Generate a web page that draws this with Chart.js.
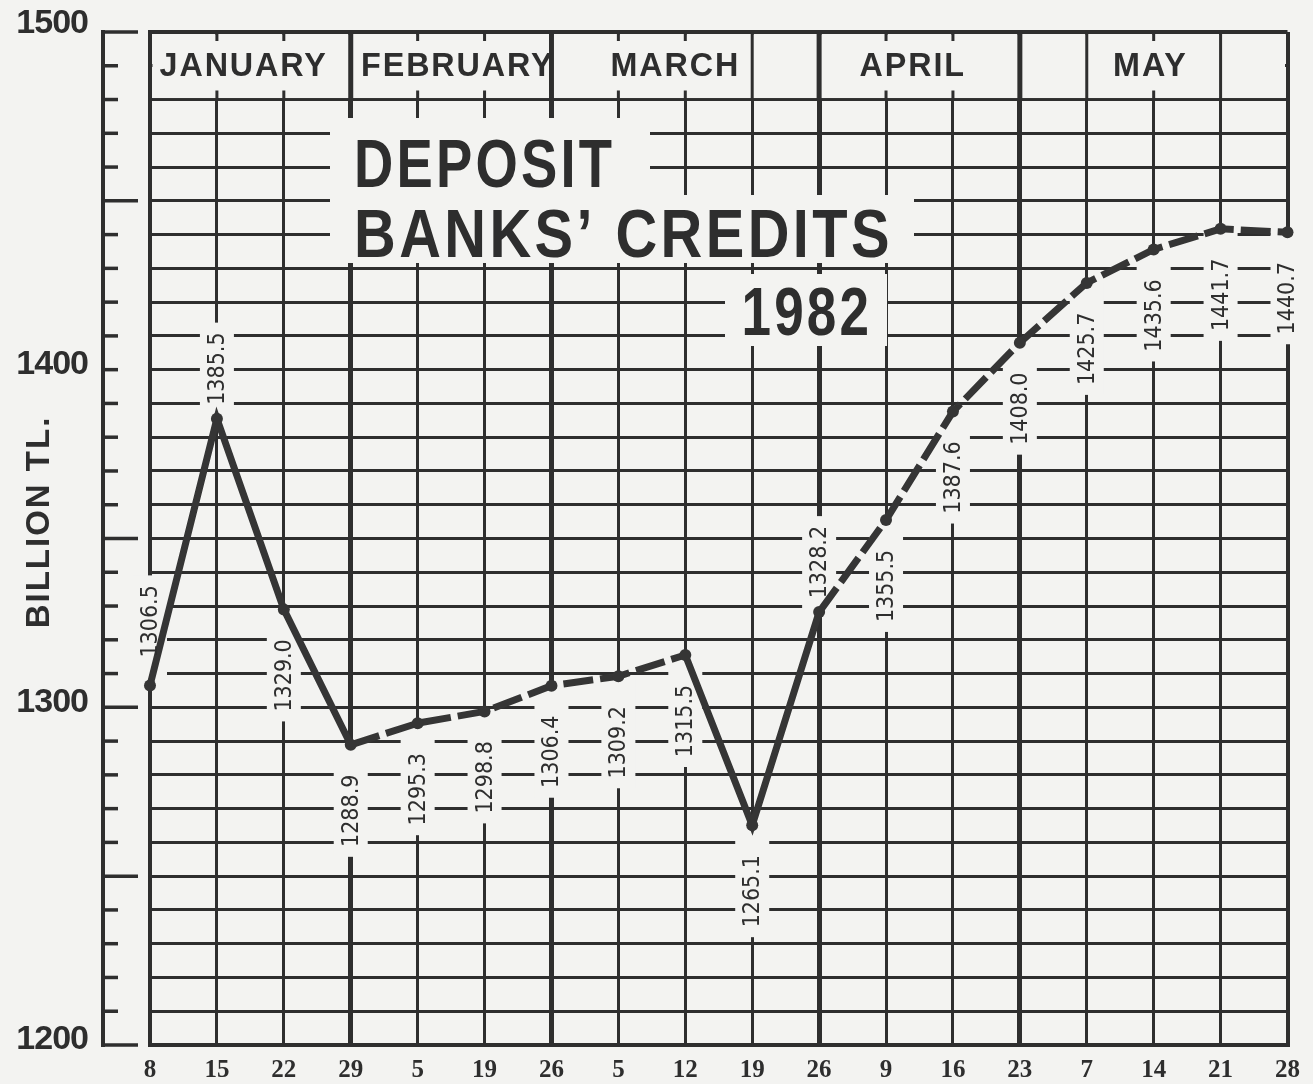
<!DOCTYPE html>
<html>
<head>
<meta charset="utf-8">
<title>Deposit Banks' Credits 1982</title>
<script src="https://cdn.jsdelivr.net/npm/chart.js@4.4.1/dist/chart.umd.min.js"></script>
<style>
  html, body { margin: 0; padding: 0; background: #f3f3f1; overflow: hidden; }
  canvas { display: block; }
</style>
</head>
<body>
<canvas id="chart" width="1313" height="1084"></canvas>
<script>
// weekly readings, Jan - May 1982
const weeks = ['8','15','22','29','5','19','26','5','12','19','26','9','16','23','7','14','21','28'];
const credits = [1306.5, 1385.5, 1329.0, 1288.9, 1295.3, 1298.8, 1306.4, 1309.2, 1315.5,
                 1265.1, 1328.2, 1355.5, 1387.6, 1408.0, 1425.7, 1435.6, 1441.7, 1440.7];
const valueLabels = credits.map(v => v.toFixed(1));
const months = ['JANUARY', 'FEBRUARY', 'MARCH', 'APRIL', 'MAY'];
const yTickLabels = [1200, 1300, 1400, 1500];
const titleLines = ['DEPOSIT', 'BANKS’ CREDITS', '1982'];
const yTitle = 'BILLION TL.';

// styling / layout
const INK = '#2e2e2e';
const PAPER = '#f3f3f1';
const MONTH_AT = [1.4, 4.6, 7.85, 11.4, 14.95];     // in week-index units
const MONTH_EDGES = [3, 6, 10, 13];                  // heavier verticals
const HEADER_FULL = [0, 3, 6, 9, 10, 13, 14, 16, 17];
const DASHED_FROM = [3, 4, 5, 6, 7, 10, 11, 12, 13, 14, 15, 16];
const LABEL_ABOVE = [0, 1, 10];
const LONG_TICKS = [1200, 1250, 1300, 1350, 1450, 1500];

function labelSpan(chart, i){
  const x = chart.scales.x.getPixelForValue(i);
  const py = chart.scales.y.getPixelForValue(credits[i]);
  const above = LABEL_ABOVE.includes(i);
  const ly = above ? py - (i === 0 ? 64 : 50) : py + 66;
  return { x, py, ly };
}

const paper = {
  id: 'paper',
  beforeDraw(c){
    const g = c.ctx;
    g.save(); g.fillStyle = PAPER; g.fillRect(0, 0, c.width, c.height); g.restore();
  }
};

const furniture = {
  id: 'furniture',
  beforeDatasetsDraw(c){
    const g = c.ctx, a = c.chartArea, xs = c.scales.x, ys = c.scales.y;
    g.save();

    // header band with month names
    const hb = ys.getPixelForValue(1480);
    g.fillStyle = PAPER;
    g.fillRect(a.left + 2.5, a.top + 2.5, a.right - a.left - 5, hb - a.top - 4);
    g.strokeStyle = INK;
    for (let i = 1; i < weeks.length - 1; i++){
      const x = xs.getPixelForValue(i);
      g.lineWidth = MONTH_EDGES.includes(i) ? 5 : 3;
      g.beginPath();
      if (HEADER_FULL.includes(i)){
        g.moveTo(x, a.top); g.lineTo(x, hb);
      } else {
        g.moveTo(x, a.top); g.lineTo(x, a.top + 9);
        g.moveTo(x, hb - 9); g.lineTo(x, hb);
      }
      g.stroke();
    }
    g.fillStyle = INK;
    g.font = 'bold 34px "Liberation Sans", Arial, sans-serif';
    g.letterSpacing = '2px';
    g.textAlign = 'center';
    g.textBaseline = 'alphabetic';
    months.forEach((m, k) => {
      g.save(); g.translate(xs.getPixelForValue(MONTH_AT[k]), 76); g.scale(0.95, 1);
      g.fillText(m, 0, 0); g.restore();
    });

    // title, with the grid knocked out behind it
    g.fillStyle = PAPER;
    g.fillRect(330, 118, 320, 78);
    g.fillRect(330, 195, 584, 68);
    g.fillRect(725, 274, 162, 72);
    g.fillStyle = INK;
    g.font = 'bold 68px "Liberation Sans", Arial, sans-serif';
    g.letterSpacing = '4px';
    const drawT = (t, x, y, align, sx) => {
      g.save(); g.translate(x, y); g.scale(sx, 1); g.textAlign = align; g.fillText(t, 0, 0); g.restore();
    };
    drawT(titleLines[0], 354, 187, 'left', 0.8);
    drawT(titleLines[1], 354, 257, 'left', 0.85);
    drawT(titleLines[2], 872, 335, 'right', 0.78);

    // gaps in the grid for the value labels
    g.fillStyle = PAPER;
    credits.forEach((v, i) => {
      const s = labelSpan(c, i);
      const top = Math.min(s.py, s.ly - 46), bot = Math.max(s.py, s.ly + 46);
      g.fillRect(s.x - 17, top, 34, bot - top);
    });

    // detached ruler on the left
    const rx = 103;
    g.strokeStyle = INK; g.lineWidth = 4; g.lineCap = 'butt';
    g.beginPath();
    g.moveTo(rx, ys.getPixelForValue(1500) - 2); g.lineTo(rx, ys.getPixelForValue(1200) + 2);
    g.stroke();
    g.lineWidth = 3.5;
    for (let v = 1200; v <= 1500; v += 10){
      const y = ys.getPixelForValue(v);
      g.beginPath(); g.moveTo(rx, y); g.lineTo(LONG_TICKS.includes(v) ? 138 : 118, y); g.stroke();
    }
    g.fillStyle = INK;
    g.font = 'bold 34px "Liberation Sans", Arial, sans-serif';
    g.letterSpacing = '-1px';
    g.textAlign = 'right'; g.textBaseline = 'middle';
    yTickLabels.forEach(v => {
      let y = ys.getPixelForValue(v) - 5;
      if (v === 1500) y = 24;
      g.fillText(String(v), 88, y);
    });

    // axis title
    g.save();
    g.translate(40, 522); g.rotate(-Math.PI / 2);
    g.font = 'bold 33px "Liberation Sans", Arial, sans-serif';
    g.letterSpacing = '2px';
    g.textAlign = 'center'; g.textBaseline = 'middle';
    g.fillText(yTitle, 0, 0);
    g.restore();

    g.restore();
  },
  afterDatasetsDraw(c){
    const g = c.ctx;
    g.save();
    g.fillStyle = INK;
    g.font = '23px "DejaVu Sans Condensed", "Liberation Sans Narrow", sans-serif';
    g.textAlign = 'center'; g.textBaseline = 'middle';
    valueLabels.forEach((t, i) => {
      const s = labelSpan(c, i);
      g.save(); g.translate(s.x + 1, s.ly); g.rotate(-Math.PI / 2); g.fillText(t, 0, 0); g.restore();
    });
    g.restore();
  }
};

const chart = new Chart(document.getElementById('chart').getContext('2d'), {
  type: 'line',
  data: {
    labels: weeks,
    datasets: [{
      data: credits,
      borderColor: '#353535',
      borderWidth: 7,
      borderCapStyle: 'butt',
      pointRadius: 6,
      pointBackgroundColor: '#353535',
      pointBorderWidth: 0,
      tension: 0,
      clip: 12,
      segment: {
        borderDash: ctx => DASHED_FROM.includes(ctx.p0DataIndex) ? [30, 7] : undefined
      }
    }]
  },
  options: {
    responsive: false,
    animation: false,
    devicePixelRatio: 1,
    layout: { padding: { left: 150, right: 23, top: 32, bottom: -12 } },
    plugins: { legend: { display: false }, tooltip: { enabled: false } },
    scales: {
      x: {
        offset: false,
        grid: {
          color: INK,
          lineWidth: ctx => (ctx.index === 0 || ctx.index === weeks.length - 1) ? 4 : (MONTH_EDGES.includes(ctx.index) ? 5 : 3),
          drawTicks: false
        },
        border: { display: true, color: INK, width: 4 },
        ticks: {
          color: INK,
          padding: 13,
          autoSkip: false,
          maxRotation: 0,
          font: { family: '"Liberation Serif", "Times New Roman", serif', weight: 'bold', size: 25, lineHeight: 1 }
        }
      },
      y: {
        min: 1200,
        max: 1500,
        grid: {
          color: INK,
          lineWidth: ctx => ctx.index === 30 ? 4 : 3,
          drawTicks: false
        },
        border: { display: true, color: INK, width: 4 },
        ticks: { display: false, stepSize: 10 }
      }
    }
  },
  plugins: [paper, furniture]
});
</script>
</body>
</html>
